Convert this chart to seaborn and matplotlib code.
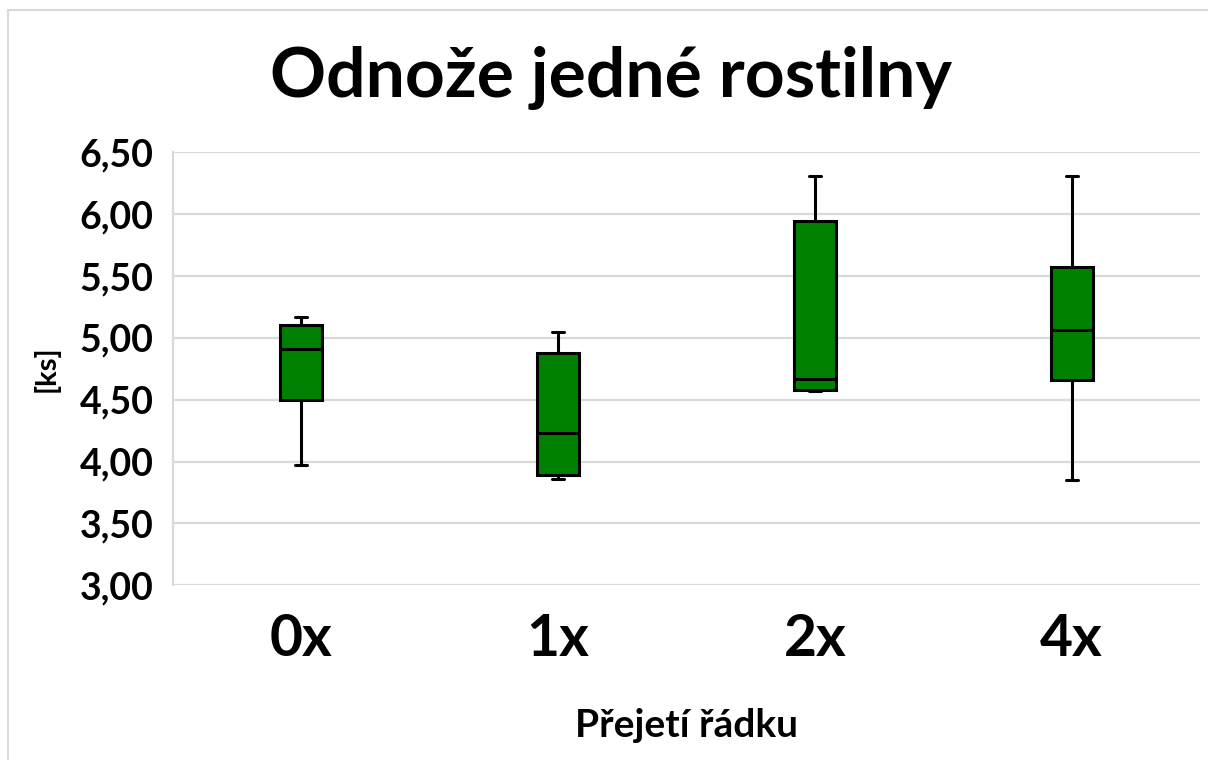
import numpy as np
import pandas as pd
import seaborn as sns
import matplotlib.pyplot as plt
from matplotlib.lines import Line2D
from matplotlib.ticker import FuncFormatter

# five-number summaries: min, Q1, median, Q3, max
categories = ["0x", "1x", "2x", "4x"]
val_0x = [3.97, 4.50, 4.91, 5.105, 5.165]
val_1x = [3.857, 3.89, 4.228, 4.879, 5.046]
val_2x = [4.573, 4.581, 4.667, 5.946, 6.308]
val_4x = [3.855, 4.661, 5.06, 5.575, 6.306]
yticks = [3.0, 3.5, 4.0, 4.5, 5.0, 5.5, 6.0, 6.5]

df = pd.DataFrame({
    "cat": np.repeat(categories, 5),
    "val": val_0x + val_1x + val_2x + val_4x,
})

sns.set_style("white")
plt.rcParams["font.family"] = ["Lato", "DejaVu Sans"]
plt.rcParams["font.weight"] = "bold"
plt.rcParams["text.color"] = "black"
plt.rcParams["axes.labelcolor"] = "black"
plt.rcParams["xtick.color"] = "black"
plt.rcParams["ytick.color"] = "black"

fig = plt.figure(figsize=(12.08, 7.6), dpi=100)
ax = fig.add_axes([0.1432, 0.2299, 0.8502, 0.5697])

sns.boxplot(data=df, x="cat", y="val", order=categories, ax=ax,
            whis=(0, 100), width=0.164, color="#008000", saturation=1,
            linecolor="black", linewidth=2.2, showfliers=False,
            capwidths=0.047)

ax.set_ylim(3.0, 6.5)
ax.set_yticks(yticks)
ax.yaxis.set_major_formatter(FuncFormatter(lambda v, p: f"{v:.2f}".replace(".", ",")))
ax.grid(axis="y", color="#d9d9d9", linewidth=1.6)
ax.set_axisbelow(True)
for s in ["top", "right", "bottom"]:
    ax.spines[s].set_visible(False)
ax.spines["left"].set_color("#d9d9d9")
ax.spines["left"].set_linewidth(1.6)

ax.tick_params(axis="y", labelsize=27, length=0, pad=14, labelcolor="black")
ax.tick_params(axis="x", labelsize=41, length=0, pad=20, labelcolor="black")
for lab in ax.get_xticklabels() + ax.get_yticklabels():
    lab.set_fontweight("bold")

ax.set_xlabel("Přejetí řádku", fontsize=28, fontweight="bold", labelpad=30,
              color="black")
ax.set_ylabel("[ks]", fontsize=21, fontweight="bold", labelpad=14,
              color="black")

fig.suptitle("Odnože jedné rostilny", fontsize=50, fontweight="bold",
             x=0.506, y=0.94, va="top", color="black")

# chart-area border (left and top edges visible)
fig.add_artist(Line2D([8 / 1208, 8 / 1208], [0, 1 - 10 / 760],
                      transform=fig.transFigure, color="#d9d9d9", lw=1.5))
fig.add_artist(Line2D([8 / 1208, 1], [1 - 10 / 760, 1 - 10 / 760],
                      transform=fig.transFigure, color="#d9d9d9", lw=1.5))

fig.savefig("out.png", dpi=100, facecolor="white")
